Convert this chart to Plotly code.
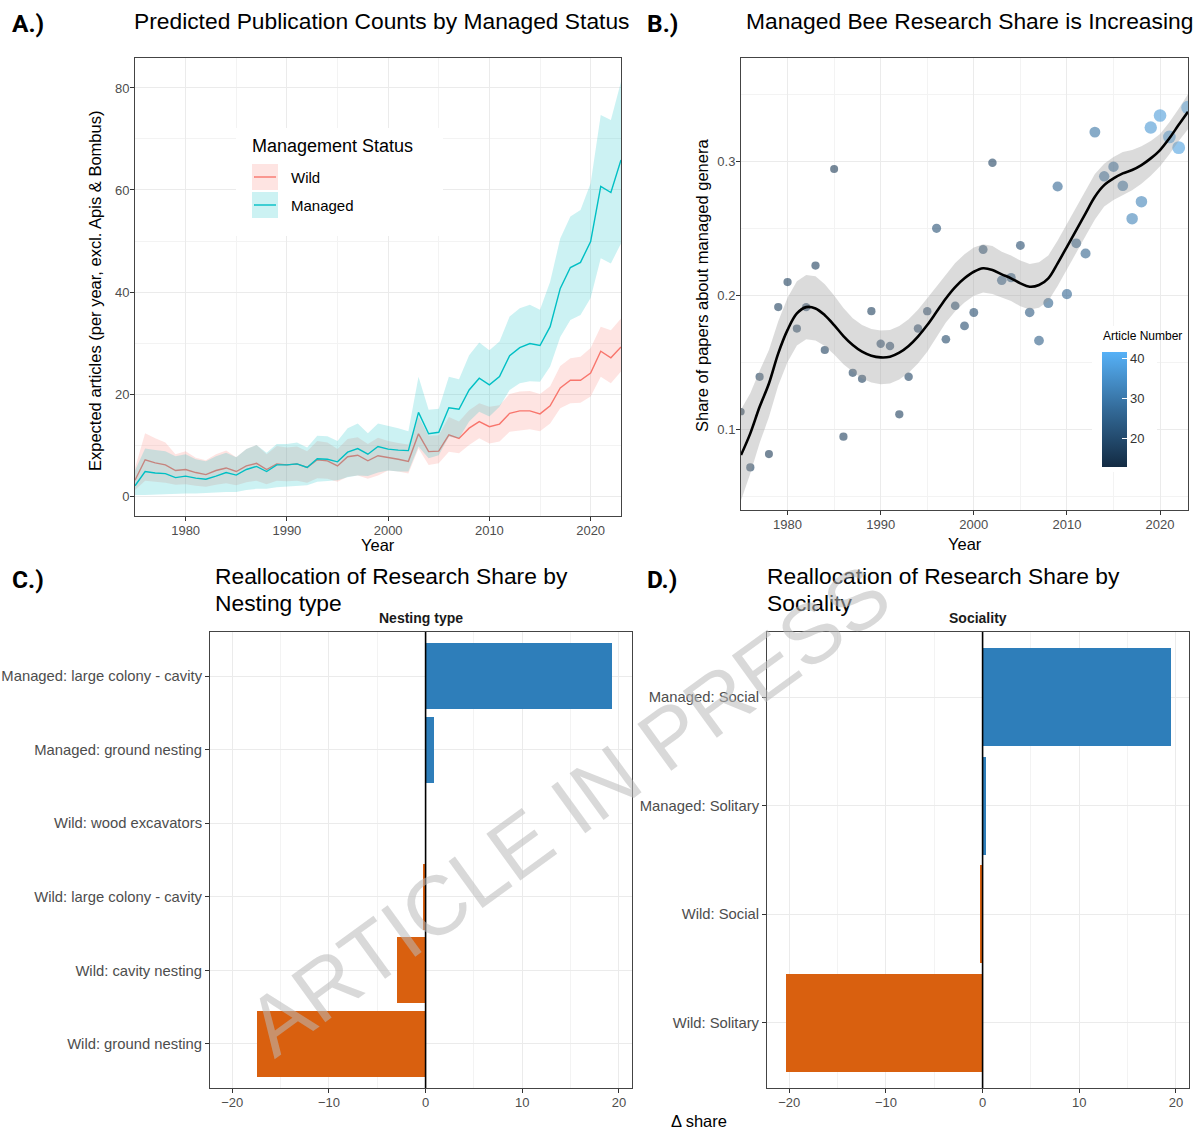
import plotly.graph_objects as go

W, H = 1199, 1131
FONT = "Liberation Sans, Arial, sans-serif"

years = list(range(1975, 2024))

# ---- Panel A: predicted yearly publication counts (fit, lower, upper) ----
wild_fit = [3.1, 7.1, 6.5, 6.1, 5.0,
            5.2, 4.6, 4.2, 5.0, 5.5, 4.8, 5.9, 6.4, 5.2, 6.3,
            6.1, 6.3, 5.6, 7.1, 6.9, 5.9, 7.7, 8.0, 6.9, 7.9,
            7.6, 7.2, 6.8, 12.2, 8.7, 8.8, 12.0, 11.3, 13.3, 14.6,
            13.6, 14.1, 16.2, 16.7, 16.7, 16.1, 17.7, 21.2, 22.7, 22.7,
            24.1, 28.4, 27.1, 29.2]
wild_lo = [1.2, 3.0, 2.8, 2.6, 2.2,
           2.3, 2.0, 1.8, 2.2, 2.5, 2.1, 2.7, 3.0, 2.3, 3.0,
           2.9, 3.0, 2.6, 3.5, 3.4, 2.8, 3.8, 4.0, 3.4, 4.0,
           5.0, 4.8, 4.4, 9.3, 6.1, 6.4, 8.7, 8.4, 10.0, 11.3,
           10.3, 10.7, 12.6, 12.9, 13.1, 12.7, 14.2, 17.2, 18.2, 18.3,
           19.5, 23.4, 22.1, 24.4]
wild_hi = [5.5, 12.3, 11.3, 10.5, 8.2,
           8.8, 7.5, 7.0, 8.2, 8.9, 7.6, 9.2, 10.0, 8.2, 9.8,
           9.5, 9.7, 8.8, 10.8, 10.5, 9.2, 11.2, 11.5, 10.2, 11.4,
           10.8, 10.4, 10.1, 15.5, 11.8, 11.9, 15.5, 14.6, 16.8, 18.2,
           17.5, 17.8, 20.0, 20.5, 20.6, 20.0, 21.5, 25.5, 27.0, 27.3,
           29.0, 33.2, 32.5, 34.8]

managed_fit = [2.0, 4.8, 4.5, 4.4, 3.6,
               3.9, 3.5, 3.3, 3.9, 4.6, 4.1, 5.2, 5.8, 4.8, 6.1,
               6.1, 6.3, 5.6, 7.3, 7.2, 6.7, 8.6, 9.3, 8.2, 9.7,
               9.2, 9.0, 8.9, 16.4, 12.2, 12.5, 17.3, 17.0, 20.8, 23.1,
               21.8, 23.4, 27.5, 29.1, 29.9, 29.5, 33.2, 40.7, 44.8, 45.8,
               49.9, 60.7, 59.5, 65.9]
managed_lo = [0.2, 0.2, 0.3, 0.4, 0.4,
              0.5, 0.5, 0.5, 0.7, 0.8, 0.8, 1.2, 1.4, 1.4, 1.7,
              1.8, 2.0, 2.1, 2.8, 2.9, 3.1, 3.7, 4.0, 3.9, 4.6,
              5.0, 4.8, 4.8, 9.7, 7.4, 8.0, 11.6, 11.3, 14.6, 16.5,
              15.6, 17.5, 20.8, 22.1, 22.5, 22.4, 25.4, 31.2, 34.5, 35.5,
              38.8, 46.6, 45.6, 49.5]
managed_hi = [5.0, 9.3, 9.0, 8.8, 7.8,
              8.2, 7.2, 6.8, 7.8, 8.5, 7.6, 9.2, 10.0, 8.5, 10.2,
              10.2, 10.5, 9.5, 11.8, 11.7, 10.8, 13.3, 14.2, 12.3, 14.2,
              13.8, 13.3, 12.7, 23.4, 16.9, 17.1, 23.4, 22.9, 27.6, 30.1,
              28.6, 30.3, 35.2, 36.8, 37.5, 36.5, 42.0, 50.5, 54.8, 56.1,
              61.3, 74.7, 73.7, 81.2]

# ---- Panel B: yearly share of papers on managed genera ----
managed_share = [0.113, 0.0714, 0.139, 0.0813, 0.191,
                 0.2097, 0.175, 0.191, 0.222, 0.159, 0.294, 0.0943, 0.142, 0.1375, 0.188,
                 0.1637, 0.162, 0.111, 0.139, 0.175, 0.188, 0.2498, 0.167, 0.192, 0.177,
                 0.187, 0.234, 0.2988, 0.211, 0.213, 0.237, 0.187, 0.166, 0.194, 0.281,
                 0.2007, 0.2386, 0.231, 0.3216, 0.2886, 0.2958, 0.2816, 0.257, 0.2697, 0.325,
                 0.334, 0.318, 0.310, 0.340]
article_number = [13, 17, 17, 16, 17,
                  17, 17, 18, 17, 17, 16, 17, 17, 17, 17,
                  18, 18, 17, 18, 18, 18, 21, 19, 19, 20,
                  20, 20, 18, 23, 22, 20, 23, 24, 25, 26,
                  26, 24, 25, 29, 27, 27, 28, 32, 32, 36,
                  37, 37, 38, 41]
share_smooth = [0.0806, 0.0968, 0.1166, 0.134, 0.1565,
                0.174, 0.1863, 0.191, 0.190, 0.185, 0.1776, 0.1694, 0.1627, 0.1577, 0.1547,
                0.1535, 0.154, 0.157, 0.162, 0.169, 0.1776, 0.1875, 0.1975, 0.206, 0.2125,
                0.2174, 0.220, 0.2187, 0.2154, 0.2125, 0.2087, 0.2062, 0.2075, 0.2125, 0.2237,
                0.236, 0.2485, 0.261, 0.2734, 0.282, 0.287, 0.2908, 0.2933, 0.297, 0.302,
                0.3082, 0.317, 0.327, 0.3368]
share_se = [0.034, 0.030, 0.027, 0.025, 0.024,
            0.024, 0.024, 0.024, 0.024, 0.023, 0.022, 0.021, 0.020, 0.020, 0.020,
            0.020, 0.020, 0.020, 0.020, 0.020, 0.020, 0.019, 0.018, 0.018, 0.018,
            0.018, 0.018, 0.018, 0.017, 0.017, 0.017, 0.017, 0.017, 0.017, 0.017,
            0.017, 0.017, 0.017, 0.017, 0.016, 0.016, 0.016, 0.015, 0.014, 0.013,
            0.012, 0.012, 0.012, 0.013]

# ---- Panels C and D: change in research share ----
nesting_types = ["Managed: large colony - cavity", "Managed: ground nesting",
                 "Wild: wood excavators", "Wild: large colony - cavity",
                 "Wild: cavity nesting", "Wild: ground nesting"]
nesting_delta = [19.27, 0.86, -0.05, -0.3, -3.0, -17.44]

sociality_types = ["Managed: Social", "Managed: Solitary", "Wild: Social", "Wild: Solitary"]
sociality_delta = [19.5, 0.35, -0.28, -20.33]

x_ticks_year = [1980, 1990, 2000, 2010, 2020]
y_ticks_counts = [0, 20, 40, 60, 80]
y_ticks_share = [0.1, 0.2, 0.3]
x_ticks_delta = [-20, -10, 0, 10, 20]
colorbar_ticks = [20, 30, 40]

# colours
WILD = "#F8766D"
MANAGED = "#00BFC4"
BLUE = "#2E7EBA"
ORANGE = "#D9600F"


def px(x):
    return x / W


def py(y):
    return 1 - y / H


def band(x, lo, hi, fill, xa, ya):
    return go.Scatter(x=list(x) + list(x)[::-1], y=list(hi) + list(lo)[::-1],
                      fill="toself", fillcolor=fill, mode="lines",
                      line=dict(width=0), hoverinfo="skip", showlegend=False,
                      xaxis=xa, yaxis=ya)


fig = go.Figure()

# Panel A
fig.add_trace(band(years, wild_lo, wild_hi, "rgba(248,118,109,0.2)", "x", "y"))
fig.add_trace(go.Scatter(x=years, y=wild_fit, mode="lines", name="Wild",
                         line=dict(color=WILD, width=1.4), xaxis="x", yaxis="y"))
fig.add_trace(band(years, managed_lo, managed_hi, "rgba(0,191,196,0.2)", "x", "y"))
fig.add_trace(go.Scatter(x=years, y=managed_fit, mode="lines", name="Managed",
                         line=dict(color=MANAGED, width=1.4), xaxis="x", yaxis="y"))

# Panel B
fig.add_trace(go.Scatter(
    x=years, y=managed_share, mode="markers", xaxis="x2", yaxis="y2",
    marker=dict(color=article_number, size=[4.5 + 0.22 * n for n in article_number],
                colorscale=[[0, "#132B43"], [0.5, "#336A98"], [1, "#56B1F7"]],
                cmin=13, cmax=41.5, opacity=0.6, line=dict(width=0),
                colorbar=dict(x=px(1102), xanchor="left", y=py(409.5), yanchor="middle",
                              len=115 / H, lenmode="fraction", thickness=25,
                              xpad=0, ypad=0, outlinewidth=0,
                              tickvals=colorbar_ticks, ticks="inside", ticklen=5,
                              tickcolor="white", tickwidth=1,
                              tickfont=dict(family=FONT, size=13, color="#333333"))),
    showlegend=False))
share_lo = [f - s for f, s in zip(share_smooth, share_se)]
share_hi = [f + s for f, s in zip(share_smooth, share_se)]
fig.add_trace(band(years, share_lo, share_hi, "rgba(153,153,153,0.35)", "x2", "y2"))
fig.add_trace(go.Scatter(x=years, y=share_smooth, mode="lines", xaxis="x2", yaxis="y2",
                         line=dict(color="black", width=2.6, shape="spline", smoothing=1),
                         showlegend=False))

# Panels C and D
fig.add_trace(go.Bar(x=nesting_delta, y=nesting_types, orientation="h", width=0.9,
                     marker=dict(color=[BLUE if t.startswith("Managed") else ORANGE
                                        for t in nesting_types], line=dict(width=0)),
                     xaxis="x3", yaxis="y3", showlegend=False))
fig.add_trace(go.Bar(x=sociality_delta, y=sociality_types, orientation="h", width=0.9,
                     marker=dict(color=[BLUE if t.startswith("Managed") else ORANGE
                                        for t in sociality_types], line=dict(width=0)),
                     xaxis="x4", yaxis="y4", showlegend=False))

axis_style = dict(showline=True, mirror=True, linecolor="#444444", linewidth=1,
                  ticks="outside", ticklen=4, tickcolor="#333333", tickwidth=1,
                  ticklabelstandoff=-2,
                  tickfont=dict(family=FONT, size=13, color="#4d4d4d"),
                  showgrid=True, gridcolor="#ebebeb", gridwidth=1.1, zeroline=False)
cat_style = {**axis_style, "ticklabelstandoff": 0,
             "tickfont": dict(family=FONT, size=14.8, color="#4d4d4d")}
minor_grid = dict(showgrid=True, gridcolor="#f3f3f3", gridwidth=0.8, ticks="")

fig.update_layout(
    width=W, height=H, margin=dict(l=0, r=0, t=0, b=0),
    paper_bgcolor="white", plot_bgcolor="white", showlegend=False,
    font=dict(family=FONT),
    bargap=0,
    xaxis=dict(domain=[px(135), px(621)], anchor="y", range=[1975, 2023],
               tickvals=x_ticks_year, minor=dict(tick0=1975, dtick=5, **minor_grid),
               **axis_style),
    yaxis=dict(domain=[py(516), py(58)], anchor="x", range=[-3.92, 85.88],
               tickvals=y_ticks_counts, minor=dict(tick0=0, dtick=10, **minor_grid),
               **axis_style),
    xaxis2=dict(domain=[px(741), px(1188)], anchor="y2", range=[1975, 2023],
                tickvals=x_ticks_year, minor=dict(tick0=1975, dtick=5, **minor_grid),
                **axis_style),
    yaxis2=dict(domain=[py(510), py(58)], anchor="x2", range=[0.0396, 0.3769],
                tickvals=y_ticks_share, tickformat=".1f",
                minor=dict(tick0=0, dtick=0.05, **minor_grid), **axis_style),
    xaxis3=dict(domain=[px(210), px(632)], anchor="y3", range=[-22.3, 21.35],
                tickvals=x_ticks_delta, minor=dict(tick0=0, dtick=5, **minor_grid),
                **axis_style),
    yaxis3=dict(domain=[py(1088), py(632)], anchor="x3", type="category",
                categoryorder="array", categoryarray=nesting_types[::-1],
                range=[-0.6, len(nesting_types) - 0.4], **cat_style),
    xaxis4=dict(domain=[px(767), px(1189)], anchor="y4", range=[-22.3, 21.35],
                tickvals=x_ticks_delta, minor=dict(tick0=0, dtick=5, **minor_grid),
                **axis_style),
    yaxis4=dict(domain=[py(1088), py(632)], anchor="x4", type="category",
                categoryorder="array", categoryarray=sociality_types[::-1],
                range=[-0.6, len(sociality_types) - 0.4], **cat_style),
)

shapes = []
# zero reference lines on the bar panels
for xa, ya in (("x3", "y3"), ("x4", "y4")):
    shapes.append(dict(type="line", xref=xa, yref=ya + " domain", x0=0, x1=0, y0=0, y1=1,
                       line=dict(color="black", width=1.6), layer="above"))

# Panel A legend: white box, keys and text
shapes.append(dict(type="rect", xref="paper", yref="paper",
                   x0=px(236), x1=px(443), y0=py(236), y1=py(128),
                   fillcolor="white", line=dict(width=0), layer="above"))
for (top, fill, col) in ((164, "rgba(248,118,109,0.2)", WILD),
                         (192, "rgba(0,191,196,0.2)", MANAGED)):
    shapes.append(dict(type="rect", xref="paper", yref="paper",
                       x0=px(252), x1=px(278), y0=py(top + 26), y1=py(top),
                       fillcolor=fill, line=dict(width=0), layer="above"))
    shapes.append(dict(type="line", xref="paper", yref="paper",
                       x0=px(254), x1=px(276), y0=py(top + 13), y1=py(top + 13),
                       line=dict(color=col, width=1.4), layer="above"))
# background behind the colour bar legend in panel B
shapes.append(dict(type="rect", xref="paper", yref="paper",
                   x0=px(1092), x1=px(1157), y0=py(472), y1=py(326),
                   fillcolor="white", line=dict(width=0), layer="above"))

annotations = []


def text(x, y, s, size, color="black", xanchor="left", yanchor="middle",
         bold=False, angle=0, family=FONT):
    annotations.append(dict(x=px(x), y=py(y), xref="paper", yref="paper", text=s,
                            showarrow=False, xanchor=xanchor, yanchor=yanchor,
                            textangle=angle,
                            font=dict(family=family, size=size, color=color,
                                      weight="bold" if bold else "normal")))


# panel letters
for lab, x, y in (("A.)", 10, 23), ("B.)", 645, 23), ("C.)", 10, 579), ("D.)", 645, 579)):
    text(x, y, lab, 24.5, bold=True, family="Roboto, " + FONT)

# titles
text(132, 21, "Predicted Publication Counts by Managed Status", 22.8)
text(744, 21, "Managed Bee Research Share is Increasing", 22.8)
text(213, 576, "Reallocation of Research Share by", 22.8)
text(213, 603, "Nesting type", 22.8)
text(765, 576, "Reallocation of Research Share by", 22.8)
text(765, 603, "Sociality", 22.8)

# strip labels
text(421, 618, "Nesting type", 14, bold=True, xanchor="center", color="#1a1a1a")
text(978, 618, "Sociality", 14, bold=True, xanchor="center", color="#1a1a1a")

# axis titles
text(378, 545, "Year", 16.5, xanchor="center")
text(965, 544, "Year", 16.5, xanchor="center")
text(95, 291, "Expected articles (per year, excl. Apis &amp; Bombus)", 16.5,
     xanchor="center", angle=-90)
text(702, 286, "Share of papers about managed genera", 16.5, xanchor="center", angle=-90)
text(699, 1121, "Δ share", 16.5, xanchor="center")

# legend texts
text(250, 146, "Management Status", 18)
text(289, 177, "Wild", 15)
text(289, 206, "Managed", 15)
text(1101, 336, "Article Number", 12)

# watermark
annotations.append(dict(x=px(568), y=py(810), xref="paper", yref="paper",
                        text="ARTICLE IN PRESS", showarrow=False, textangle=-36,
                        xanchor="center", yanchor="middle",
                        font=dict(family=FONT, size=84, color="rgba(185,185,185,0.55)")))

fig.update_layout(shapes=shapes, annotations=annotations)

fig.write_html("out.html")
